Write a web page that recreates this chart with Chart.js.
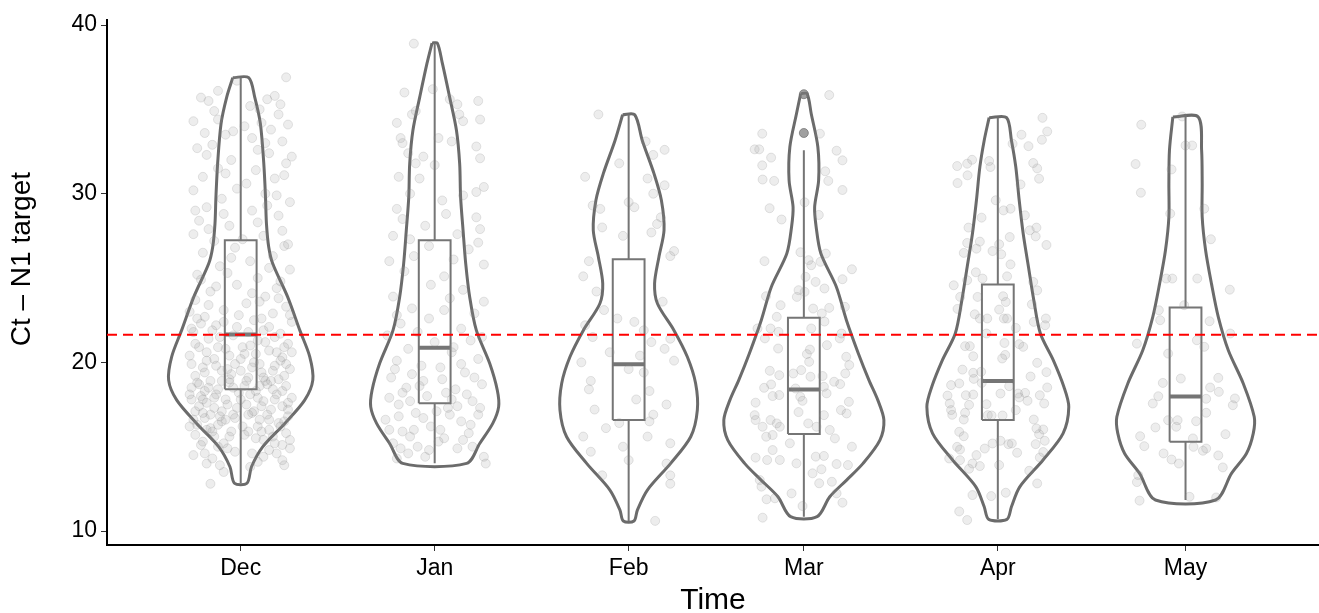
<!DOCTYPE html>
<html><head><meta charset="utf-8">
<script src="https://cdn.jsdelivr.net/npm/chart.js@4.4.1/dist/chart.umd.min.js"></script>
<style>html,body{margin:0;padding:0;background:#fff;}#wrap{width:1319px;height:613px;}</style>
</head><body><div id="wrap"><canvas id="c" width="1319" height="613"></canvas></div>
<script>
const months = ['Dec','Jan','Feb','Mar','Apr','May'];
const monthDay = [0,31,62,90,121,151];   // days after mid-December
const yTicks = [10,20,30,40];
const refLine = 21.63;

// violin outlines: values (top to bottom) and half-widths (width units)
const decVy = [36.88,35.73,34.15,31.78,29.80,28.23,26.84,25.86,23.88,21.91,20.33,18.95,17.76,16.38,14.99,13.81,12.83];
const decVw = [0.042,0.074,0.104,0.122,0.131,0.136,0.148,0.169,0.248,0.312,0.365,0.381,0.338,0.233,0.116,0.057,0.033];
const janVy = [38.93,37.71,35.73,33.76,31.78,29.80,27.83,25.86,23.88,21.91,19.93,18.35,17.36,16.38,15.19,14.01];
const janVw = [0.014,0.041,0.079,0.115,0.132,0.137,0.150,0.164,0.185,0.220,0.291,0.331,0.338,0.307,0.238,0.169];
const febVy = [34.68,33.16,31.19,29.61,27.83,26.25,24.67,23.49,21.91,20.33,18.75,17.17,15.59,14.01,12.43,11.24,10.59];
const febVw = [0.032,0.072,0.134,0.173,0.187,0.160,0.137,0.152,0.239,0.310,0.354,0.363,0.328,0.222,0.099,0.046,0.028];
const marVy = [35.93,34.74,32.77,30.79,29.21,28.03,26.45,24.47,22.50,20.53,18.95,17.76,16.58,15.39,14.01,13.02,12.03,10.85];
const marVw = [0.017,0.039,0.074,0.078,0.057,0.065,0.090,0.172,0.225,0.288,0.344,0.391,0.423,0.402,0.313,0.226,0.137,0.070];
const aprVy = [34.51,33.16,31.58,29.61,27.64,25.66,23.69,21.71,20.13,18.55,17.36,15.79,14.21,12.62,11.44,10.69];
const aprVw = [0.046,0.072,0.095,0.113,0.134,0.162,0.190,0.225,0.293,0.349,0.375,0.345,0.239,0.116,0.072,0.048];
const mayVy = [34.55,32.57,30.60,28.62,26.65,24.67,22.70,20.72,18.75,16.77,15.79,14.60,13.42,11.84];
const mayVw = [0.067,0.085,0.088,0.088,0.106,0.137,0.173,0.226,0.305,0.363,0.358,0.322,0.243,0.159];

// boxplot stats: [lower whisker, Q1, median, Q3, upper whisker]
const decBox = [12.83,18.41,21.65,27.24,36.88];
const janBox = [14.01,17.57,20.86,27.24,38.93];
const febBox = [10.59,16.58,19.89,26.11,34.68];
const marBox = [10.85,15.75,18.39,22.64,32.57];
const aprBox = [10.69,16.58,18.89,24.61,34.51];
const mayBox = [11.84,15.29,17.97,23.25,34.55];
const marOutliers = [33.6,35.9];

// jittered observations: [offset from month centre (width units), value]
const decPts = [[0.24,36.9],[-0.02,36.7],[-0.21,35.7],[-0.17,35.5],[0.14,35.6],[0.18,35.8],[0.05,35.2],[0.10,35.0],[-0.25,34.3],[-0.12,34.4],[0.02,34.0],[0.20,34.7],[0.25,34.1],[0.11,34.2],[-0.19,33.6],[-0.08,33.5],[0.06,33.3],[0.22,33.1],[-0.23,32.7],[-0.15,32.9],[0.15,32.4],[0.27,32.2],[-0.05,32.0],[0.24,31.8],[-0.12,31.5],[0.08,31.4],[-0.20,31.0],[0.18,30.9],[0.03,30.6],[-0.25,30.2],[0.13,30.0],[-0.10,29.7],[0.26,29.5],[-0.18,29.2],[0.06,29.0],[0.20,28.7],[-0.22,28.4],[-0.06,28.1],[0.22,27.8],[-0.25,27.6],[0.12,27.5],[-0.14,27.2],[0.25,27.0],[-0.03,26.8],[-0.20,26.5],[0.17,26.3],[0.05,26.0],[-0.11,25.7],[0.26,25.5],[-0.23,25.2],[0.09,25.0],[-0.02,24.6],[0.19,24.4],[-0.16,24.2],[0.13,23.9],[-0.24,23.7],[0.03,23.5],[0.24,23.3],[-0.09,23.1],[0.17,22.9],[-0.19,22.7],[0.07,22.5],[0.27,22.4],[-0.13,22.2],[-0.26,22.0],[0.12,21.9],[0.21,21.7],[-0.04,21.6],[-0.17,21.4],[0.09,21.3],[0.25,21.1],[-0.22,20.9],[-0.08,20.8],[0.15,20.7],[0.02,20.5],[-0.27,20.4],[0.22,20.3],[-0.14,20.2],[0.07,20.0],[-0.03,19.9],[0.18,19.8],[-0.20,19.7],[0.26,19.6],[-0.10,19.5],[0.11,19.4],[-0.24,19.2],[0.04,19.1],[0.20,19.0],[-0.16,18.9],[-0.06,18.8],[0.14,18.7],[0.24,18.6],[-0.26,18.5],[-0.12,18.4],[0.08,18.3],[-0.01,18.2],[0.19,18.1],[-0.21,18.0],[0.27,17.9],[-0.08,17.8],[0.12,17.7],[-0.18,17.6],[0.03,17.5],[0.22,17.4],[-0.14,17.3],[0.16,17.2],[-0.24,17.1],[0.06,17.0],[-0.04,16.9],[0.25,16.8],[-0.19,16.7],[0.10,16.6],[-0.10,16.5],[0.20,16.4],[-0.23,16.3],[0.01,16.2],[0.15,16.0],[-0.15,15.9],[0.24,15.8],[-0.06,15.6],[0.08,15.5],[-0.20,15.3],[0.18,15.2],[-0.12,15.0],[0.26,14.9],[-0.03,14.7],[-0.25,14.5],[0.12,14.4],[0.22,14.2],[-0.18,14.0],[0.05,13.8],[-0.09,13.5],[0.23,13.9],[-0.16,12.8],[-0.25,21.8],[-0.11,21.5],[0.05,21.0],[0.19,20.6],[-0.18,20.1],[0.10,19.9],[-0.05,19.3],[0.23,19.2],[-0.22,18.7],[0.02,18.6],[0.17,18.4],[-0.13,18.1],[0.09,17.9],[-0.26,17.8],[0.25,17.6],[-0.02,17.3],[-0.20,17.0],[0.14,16.9],[-0.08,16.6],[0.21,16.2],[-0.16,16.1],[0.04,15.9],[-0.24,15.7],[0.12,15.4],[-0.09,15.2],[0.19,14.6],[-0.15,14.3],[0.00,20.2],[-0.06,19.0],[0.13,18.9],[-0.19,18.3],[0.07,17.1],[-0.11,16.8],[0.23,20.9],[-0.23,22.6],[0.15,22.1],[-0.01,22.8],[0.10,23.6],[-0.17,23.4],[0.21,24.8],[-0.07,25.3],[0.01,27.3],[-0.09,28.8],[0.14,29.3],[-0.02,30.3],[0.09,32.6],[-0.14,34.9],[0.16,33.8],[-0.27,23.0],[-0.21,22.3],[-0.15,21.9],[-0.09,22.4],[-0.02,22.1],[0.04,21.8],[0.11,22.6],[0.18,21.5],[0.26,22.8],[-0.24,21.1],[-0.18,20.6],[-0.12,20.9],[-0.06,20.4],[0.01,20.9],[0.08,20.5],[0.13,21.2],[0.21,20.1],[0.27,20.6],[-0.26,19.9],[-0.19,19.4],[-0.13,19.8],[-0.07,19.6],[0.00,19.5],[0.06,19.7],[0.12,19.1],[0.17,19.5],[0.24,19.9],[-0.23,18.8],[-0.17,18.5],[-0.10,18.9],[-0.04,18.5],[0.03,18.9],[0.10,18.6],[0.16,18.9],[0.22,18.3],[-0.27,18.1],[-0.20,17.8],[-0.14,17.9],[-0.07,17.5],[0.00,17.8],[0.05,18.1],[0.11,17.4],[0.18,17.8],[0.25,17.2],[-0.22,17.4],[-0.16,16.9],[-0.10,17.1],[-0.03,16.7],[0.04,16.9],[0.09,16.2],[0.15,16.6],[0.23,16.5],[-0.25,16.6],[-0.18,16.0],[-0.12,16.3],[-0.05,15.9],[0.02,15.7],[0.11,15.9],[0.17,15.6],[0.22,15.1],[-0.21,15.1],[-0.14,15.6],[-0.07,14.9],[0.06,14.6],[0.15,14.8],[-0.19,14.6],[0.09,14.1],[-0.11,13.9],[0.26,15.4],[-0.27,16.2],[0.20,23.8],[-0.13,24.5],[0.06,24.1],[-0.21,24.9],[0.15,25.6],[-0.05,26.2],[0.23,26.9],[-0.17,27.9],[0.09,28.3],[-0.24,29.0],[0.19,29.9],[-0.08,31.2],[0.23,31.1],[-0.18,32.3],[0.13,33.0],[-0.04,33.7],[0.21,35.3],[-0.12,36.1]];
const janPts = [[-0.11,38.9],[-0.16,36.0],[-0.01,36.2],[0.08,35.6],[0.23,35.5],[0.12,35.3],[-0.10,34.9],[-0.12,34.7],[0.13,34.7],[-0.20,34.2],[0.24,34.4],[0.15,34.3],[-0.18,33.3],[-0.17,33.0],[0.02,33.3],[0.09,33.1],[0.22,32.8],[-0.14,32.4],[-0.06,32.2],[0.24,32.1],[-0.10,31.8],[0.00,31.7],[-0.19,31.0],[-0.08,30.9],[0.26,30.4],[0.22,30.1],[-0.13,30.0],[0.04,29.6],[0.15,29.9],[-0.20,29.1],[0.06,28.8],[0.22,28.6],[-0.17,28.5],[-0.05,28.1],[0.24,27.9],[-0.22,27.5],[-0.13,27.3],[0.12,27.6],[0.23,27.1],[-0.03,26.9],[0.18,26.7],[-0.11,26.3],[-0.24,26.0],[0.10,26.1],[0.26,25.8],[-0.16,25.4],[0.05,25.1],[-0.02,24.6],[0.15,24.3],[-0.22,23.9],[0.26,23.6],[0.08,23.8],[-0.12,23.2],[0.21,22.9],[-0.18,22.3],[-0.03,22.6],[0.14,22.0],[-0.25,21.6],[0.00,21.2],[0.19,21.3],[-0.14,20.8],[0.09,20.6],[0.23,20.2],[-0.20,20.1],[-0.07,19.8],[0.16,19.4],[-0.23,19.1],[0.04,19.0],[0.25,18.7],[-0.15,18.5],[0.11,18.4],[-0.04,18.0],[0.20,17.7],[-0.19,17.5],[0.07,17.3],[-0.10,17.0],[0.23,16.9],[-0.26,16.6],[0.14,16.5],[-0.02,16.2],[-0.17,15.9],[0.18,15.8],[0.05,15.5],[-0.22,15.2],[-0.09,15.0],[0.12,14.9],[-0.14,14.6],[-0.05,14.4],[0.26,14.4],[0.27,14.0],[-0.20,14.3],[0.02,15.3],[-0.11,16.0],[0.09,17.8],[-0.06,18.9],[-0.21,19.6],[-0.12,19.3],[0.03,19.7],[0.14,19.9],[0.21,19.1],[-0.17,18.2],[-0.08,18.6],[0.06,18.2],[0.17,18.1],[-0.24,17.9],[-0.13,17.7],[0.01,17.1],[0.12,17.4],[0.24,17.3],[-0.19,16.8],[-0.06,16.7],[0.08,16.9],[0.19,16.3],[-0.24,16.0],[-0.13,15.6],[0.03,16.0],[0.15,15.4],[-0.03,14.8],[0.20,15.0],[-0.18,14.9],[0.10,20.9],[-0.09,21.8],[0.25,21.5],[-0.20,22.8],[0.05,23.1]];
const febPts = [[-0.16,34.7],[0.09,33.1],[0.19,32.6],[0.13,32.3],[-0.05,31.8],[-0.23,31.0],[0.10,30.9],[0.19,30.5],[0.13,30.0],[0.00,29.5],[-0.19,29.3],[-0.15,29.1],[0.03,29.2],[0.17,28.6],[0.15,28.2],[-0.14,28.0],[0.12,27.7],[-0.03,27.5],[0.24,26.6],[0.22,26.3],[-0.21,26.0],[-0.24,25.1],[-0.17,24.2],[0.18,23.6],[-0.13,23.1],[-0.06,22.6],[0.03,22.4],[-0.23,22.2],[0.08,21.9],[0.22,21.4],[-0.19,21.5],[0.12,21.2],[0.19,20.8],[-0.10,20.6],[0.06,20.4],[0.24,20.1],[-0.25,20.0],[0.00,19.6],[0.08,19.4],[-0.20,18.9],[-0.21,18.4],[0.11,18.3],[0.04,17.8],[0.20,17.5],[-0.18,17.2],[0.11,16.5],[-0.05,16.4],[-0.12,16.1],[0.10,15.6],[-0.24,15.6],[0.22,15.2],[-0.20,14.7],[0.00,14.2],[0.20,14.0],[0.22,13.3],[-0.14,13.3],[0.22,12.8],[0.14,10.6],[-0.03,15.0],[0.13,16.9]];
const marPts = [[0.134,35.85],[-0.22,33.56],[0.085,33.56],[-0.26,32.63],[-0.236,32.63],[-0.173,32.14],[0.173,32.55],[0.204,31.98],[-0.22,31.68],[0.113,31.33],[-0.218,30.84],[-0.157,30.76],[0.129,30.76],[0.204,30.22],[-0.181,29.14],[-0.118,28.47],[0.004,29.49],[0.079,28.74],[-0.018,26.53],[0.116,26.45],[-0.208,26.0],[0.025,26.06],[0.039,25.76],[0.088,25.96],[0.254,25.52],[0.204,24.93],[0.009,25.07],[0.062,24.77],[0.109,24.38],[-0.028,24.28],[0.004,24.18],[-0.2,23.92],[-0.037,23.88],[-0.123,23.39],[0.049,23.19],[0.134,23.23],[0.217,23.29],[0.095,22.9],[-0.143,22.7],[0.109,22.42],[-0.245,22.01],[-0.176,22.01],[-0.134,21.81],[-0.206,21.42],[0.039,22.01],[0.199,21.71],[0.19,21.42],[0.122,21.02],[-0.136,20.82],[0.016,20.49],[0.032,20.76],[0.224,20.33],[0.24,19.84],[0.028,20.03],[-0.18,19.5],[-0.13,19.24],[-0.014,19.54],[-0.056,19.34],[0.035,19.15],[0.099,19.19],[0.219,19.34],[-0.21,18.49],[-0.173,18.69],[-0.165,18.0],[-0.13,18.06],[-0.044,18.45],[-0.019,17.96],[-0.007,17.72],[0.106,18.55],[0.12,18.16],[0.16,18.85],[0.192,18.71],[-0.255,17.61],[-0.26,16.87],[-0.255,16.58],[-0.218,16.18],[-0.176,16.58],[-0.143,16.38],[-0.127,16.18],[-0.165,15.69],[-0.199,15.59],[-0.028,17.05],[0.023,16.38],[0.067,16.18],[0.106,16.87],[0.137,15.99],[0.164,15.49],[0.196,17.17],[0.226,16.97],[0.238,17.66],[0.254,15.0],[-0.255,14.35],[-0.194,14.21],[-0.127,14.21],[-0.165,14.8],[-0.074,15.2],[-0.039,14.01],[0.046,13.42],[0.063,14.41],[0.106,14.45],[0.173,13.97],[0.233,13.91],[0.093,13.66],[-0.233,13.02],[-0.224,12.63],[-0.197,11.88],[-0.153,11.94],[-0.065,12.23],[0.081,12.83],[0.148,12.92],[0.173,12.23],[0.204,11.68],[-0.007,11.48],[-0.218,10.79]];
const aprPts = [[0.236,34.5],[0.261,33.69],[0.233,33.2],[0.125,33.5],[0.162,32.82],[0.078,32.96],[-0.215,31.64],[-0.162,31.78],[-0.136,32.01],[-0.046,31.94],[-0.039,31.58],[-0.213,30.63],[-0.16,31.09],[0.187,31.82],[0.208,31.5],[0.218,30.89],[0.12,30.55],[-0.011,29.61],[0.03,29.01],[0.067,29.11],[0.143,28.72],[-0.086,28.58],[-0.155,27.99],[-0.162,27.08],[-0.095,27.16],[-0.113,26.74],[-0.18,26.49],[-0.028,26.6],[0.007,27.0],[0.018,26.41],[0.063,27.43],[0.169,27.83],[0.204,27.99],[0.2,27.47],[0.257,26.96],[0.067,25.81],[-0.116,25.34],[-0.081,24.97],[0.049,25.1],[-0.233,24.57],[-0.162,24.87],[0.187,24.77],[0.208,24.27],[-0.199,23.88],[-0.107,23.88],[0.028,23.92],[0.042,23.58],[-0.213,23.17],[0.18,23.44],[0.007,23.13],[-0.122,22.85],[-0.095,22.6],[-0.056,22.6],[0.032,22.6],[0.049,22.6],[0.254,22.6],[0.25,22.2],[0.095,22.04],[0.19,22.4],[-0.173,20.96],[-0.148,20.96],[-0.06,21.71],[0.035,21.15],[0.113,21.08],[0.134,20.92],[-0.13,20.36],[0.039,20.44],[0.023,20.23],[0.208,19.97],[-0.187,19.57],[-0.13,19.38],[-0.088,19.44],[0.257,19.42],[-0.204,18.75],[-0.247,18.65],[-0.127,19.02],[-0.085,18.78],[0.06,18.59],[0.173,19.16],[0.014,18.15],[0.107,18.15],[0.144,18.19],[0.222,18.05],[0.261,18.51],[-0.266,18.03],[-0.254,17.56],[-0.169,18.05],[-0.13,18.09],[-0.06,17.52],[-0.152,17.48],[-0.241,16.89],[-0.247,17.17],[-0.173,17.01],[-0.18,16.61],[-0.053,16.87],[-0.033,16.85],[0.025,16.85],[0.095,17.17],[0.113,17.92],[0.157,17.72],[0.19,16.61],[0.245,17.56],[-0.204,15.88],[-0.18,15.62],[-0.215,14.99],[-0.2,14.83],[-0.113,14.5],[-0.069,14.89],[-0.028,15.19],[0.014,15.35],[0.056,15.15],[0.074,15.19],[0.102,14.64],[0.204,16.08],[0.218,15.74],[0.24,16.02],[0.248,15.35],[0.2,15.15],[0.24,14.68],[0.222,14.36],[-0.257,14.3],[-0.2,14.2],[-0.152,13.69],[-0.134,14.0],[-0.095,13.85],[0.007,13.91],[0.166,13.57],[0.208,12.82],[-0.134,12.13],[-0.035,12.07],[0.042,12.27],[-0.204,11.16],[-0.162,10.65]];
const mayPts = [[-0.234,34.09],[-0.018,34.58],[0,32.86],[0.035,32.86],[-0.264,31.76],[-0.074,31.44],[-0.236,30.06],[0.099,29.11],[-0.081,28.82],[0.134,27.3],[-0.102,24.97],[-0.07,24.97],[0.062,24.97],[0.234,24.31],[-0.141,23.09],[-0.134,22.5],[-0.007,23.39],[0.127,22.44],[0.236,21.71],[-0.257,21.11],[0.06,21.31],[0.099,20.92],[-0.092,20.52],[-0.025,19.04],[-0.12,18.78],[0.173,19.08],[0.13,18.51],[0.176,18.25],[-0.144,17.99],[-0.173,17.56],[0.109,17.84],[0.261,17.86],[0.25,17.46],[0.109,17.01],[-0.159,16.14],[-0.092,16.57],[-0.042,16.57],[-0.049,16.18],[0.056,16.51],[-0.24,15.62],[-0.218,15.03],[0.039,15.49],[0.042,14.99],[0.092,14.76],[0.109,14.89],[0.211,15.74],[-0.116,14.6],[-0.074,14.24],[-0.035,14.0],[0.173,14.48],[0.197,13.77],[-0.25,13.31],[-0.257,12.9],[-0.243,11.8],[0.021,12.03],[0.162,11.99]];

const violins = [[decVy,decVw],[janVy,janVw],[febVy,febVw],[marVy,marVw],[aprVy,aprVw],[mayVy,mayVw]];
const boxes = [decBox,janBox,febBox,marBox,aprBox,mayBox];
const pointSets = [decPts,janPts,febPts,marPts,aprPts,mayPts];

const X_MIN = -21.37, X_MAX = 172.33;   // axis limits in days
const UNIT = 30.24;                     // days per width unit
const BOX_HALF = 0.084;
const VIOLIN_COLOR = '#6b6b6b';
const BOX_COLOR = '#757575';

const datasets = [];
datasets.push({data:[{x:X_MIN,y:refLine},{x:X_MAX,y:refLine}], showLine:true, borderColor:'#ff0000', borderWidth:2, borderDash:[10,6], pointRadius:0, order:0});

violins.forEach(([vy,vw],i)=>{
  const c = monthDay[i], d=[];
  for(let k=0;k<vy.length;k++) d.push({x:c-vw[k]*UNIT, y:vy[k]});
  for(let k=vy.length-1;k>=0;k--) d.push({x:c+vw[k]*UNIT, y:vy[k]});
  d.push({x:d[0].x,y:d[0].y});
  datasets.push({data:d, showLine:true, borderColor:VIOLIN_COLOR, borderWidth:3, pointRadius:0, tension:0.3, fill:false, order:5, borderJoinStyle:'round'});
});

boxes.forEach((b,i)=>{
  const [lo,q1,med,q3,hi]=b, c=monthDay[i], h=BOX_HALF*UNIT;
  datasets.push({data:[{x:c-h,y:q1},{x:c+h,y:q1},{x:c+h,y:q3},{x:c-h,y:q3},{x:c-h,y:q1}], showLine:true, borderColor:BOX_COLOR, borderWidth:2, pointRadius:0, tension:0, order:4});
  datasets.push({data:[{x:c,y:lo},{x:c,y:q1},{x:c,y:null},{x:c,y:q3},{x:c,y:hi}], showLine:true, spanGaps:false, borderColor:BOX_COLOR, borderWidth:2, pointRadius:0, tension:0, order:4});
  datasets.push({data:[{x:c-h,y:med},{x:c+h,y:med}], showLine:true, borderColor:BOX_COLOR, borderWidth:4, pointRadius:0, order:4, borderCapStyle:'butt'});
});

datasets.push({data:marOutliers.map(v=>({x:monthDay[3],y:v})), pointRadius:4.5, pointBackgroundColor:'rgba(120,120,120,0.7)', pointBorderColor:'rgba(110,110,110,0.7)', pointBorderWidth:1, showLine:false, order:3});

pointSets.forEach((pts,i)=>{
  datasets.push({data:pts.map(p=>({x:monthDay[i]+p[0]*UNIT, y:p[1]})), showLine:false, pointRadius:4.5, pointBackgroundColor:'rgba(150,150,150,0.17)', pointBorderColor:'rgba(130,130,130,0.2)', pointBorderWidth:1, order:2});
});

Chart.defaults.font.family = "'Liberation Sans', Arial, sans-serif";
new Chart(document.getElementById('c'), {
  type:'scatter',
  data:{datasets},
  options:{
    responsive:false, animation:false, events:[],
    layout:{autoPadding:false, padding:{top:20,right:0,left:0,bottom:0}},
    plugins:{legend:{display:false}, tooltip:{enabled:false}},
    scales:{
      x:{type:'linear', min:X_MIN, max:X_MAX,
        afterBuildTicks:s=>{s.ticks=monthDay.map(v=>({value:v}));},
        afterFit:s=>{s.height=68; s.paddingLeft=0; s.paddingRight=0;},
        ticks:{callback:v=>months[monthDay.indexOf(v)], color:'#000', font:{size:23}, padding:4, autoSkip:false, maxRotation:0},
        grid:{display:true, drawOnChartArea:false, drawTicks:true, tickLength:6, color:'#333', lineWidth:1},
        border:{display:true, color:'#000', width:2},
        title:{display:true, text:'Time', color:'#000', font:{size:30, lineHeight:0.8}, padding:{top:0,bottom:0}}
      },
      y:{type:'linear', min:9.17, max:40.3,
        afterBuildTicks:s=>{s.ticks=yTicks.map(v=>({value:v}));},
        afterFit:s=>{s.width=107; s.paddingTop=0; s.paddingBottom=0;},
        ticks:{color:'#000', font:{size:23}, padding:4},
        grid:{display:true, drawOnChartArea:false, drawTicks:true, tickLength:6, color:'#333', lineWidth:1},
        border:{display:true, color:'#000', width:2},
        title:{display:true, text:'      Ct – N1 target', color:'#000', font:{size:28}, padding:{top:5.6,bottom:0}}
      }
    }
  }
});
</script></body></html>
